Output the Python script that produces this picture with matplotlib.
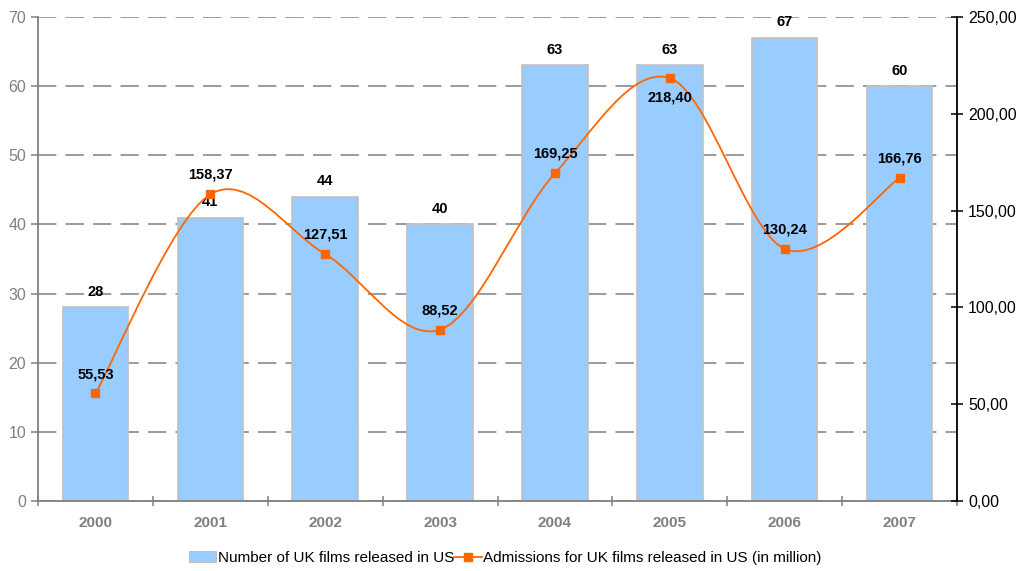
import numpy as np
import matplotlib
matplotlib.use('Agg')
import matplotlib.pyplot as plt
from matplotlib.path import Path
from matplotlib.patches import PathPatch, Patch
from matplotlib.lines import Line2D

plt.rcParams['font.family'] = ['Liberation Sans', 'DejaVu Sans']

years = ['2000', '2001', '2002', '2003', '2004', '2005', '2006', '2007']
films = [28, 41, 44, 40, 63, 63, 67, 60]
admissions = [55.53, 158.37, 127.51, 88.52, 169.25, 218.40, 130.24, 166.76]
# label above (+1) or below (-1) the marker
admissionSide = [1, 1, 1, 1, 1, -1, 1, 1]

barColor = '#99CCFF'
lineColor = '#FF6600'
gridColor = '#808080'


def smoothPath(xs, ys):
    # catmull-rom style bezier through the points (like excel smoothed line)
    verts = [(xs[0], ys[0])]
    codes = [Path.MOVETO]
    n = len(xs)
    for i in range(n - 1):
        x0, y0 = (xs[i - 1], ys[i - 1]) if i > 0 else (xs[i], ys[i])
        x1, y1 = xs[i], ys[i]
        x2, y2 = xs[i + 1], ys[i + 1]
        x3, y3 = (xs[i + 2], ys[i + 2]) if i + 2 < n else (x2, y2)
        c1 = (x1 + (x2 - x0) / 6.0, y1 + (y2 - y0) / 6.0)
        c2 = (x2 - (x3 - x1) / 6.0, y2 - (y3 - y1) / 6.0)
        verts += [c1, c2, (x2, y2)]
        codes += [Path.CURVE4] * 3
    return Path(verts, codes)


fig = plt.figure(figsize=(10.21, 5.71), dpi=100)
ax = fig.add_axes([38/1021, 70/571, 919/1021, 484/571])
xPos = np.arange(len(years))

ax.bar(xPos, films, width=0.57, color=barColor, edgecolor='#C0C0C0', linewidth=1.2, zorder=2)
for x, v in zip(xPos, films):
    ax.annotate(str(v), (x, v), xytext=(0, 11), textcoords='offset points',
                ha='center', va='center', fontsize=10.5, fontweight='bold')

ax.set_xlim(-0.5, len(years) - 0.5)
ax.set_ylim(0, 70)
ax.set_yticks(range(0, 71, 10))
ax.set_axisbelow(True)
ax.yaxis.grid(True, color=gridColor, linestyle=(0, (12, 6)), linewidth=1.1)
ax.set_xticks(xPos)
ax.set_xticklabels(years, fontweight='bold', color=gridColor, fontsize=11)
ax.set_xticks(np.arange(-0.5, len(years)), minor=True)
ax.tick_params(axis='x', which='major', length=0, pad=11)
ax.tick_params(axis='x', which='minor', length=7, direction='inout', color=gridColor, width=1.1)
ax.tick_params(axis='y', length=5, direction='out', color=gridColor, width=1.1,
               labelcolor=gridColor, labelsize=11.5)
ax.spines['top'].set_visible(False)
ax.spines['right'].set_visible(False)
ax.spines['left'].set_color(gridColor)
ax.spines['bottom'].set_color(gridColor)
ax.spines['left'].set_linewidth(1.3)
ax.spines['bottom'].set_linewidth(1.3)

ax2 = ax.twinx()
ax2.set_ylim(0, 250)
ax2.set_yticks(range(0, 251, 50))
ax2.set_yticklabels([('%.2f' % t).replace('.', ',') for t in range(0, 251, 50)])
ax2.tick_params(axis='y', length=8, direction='inout', width=1.1, labelsize=11.5, pad=4)
for s in ['top', 'left', 'bottom']:
    ax2.spines[s].set_visible(False)
ax2.spines['right'].set_linewidth(1.3)

ax2.add_patch(PathPatch(smoothPath(list(xPos), admissions), facecolor='none',
                        edgecolor=lineColor, linewidth=1.3, zorder=3))
ax2.plot(xPos, admissions, linestyle='none', marker='s', markersize=6,
         color=lineColor, zorder=4)
for x, v, side in zip(xPos, admissions, admissionSide):
    ax2.annotate(('%.2f' % v).replace('.', ','), (x, v), xytext=(0, 14 * side),
                 textcoords='offset points', ha='center', va='center',
                 fontsize=10.5, fontweight='bold', zorder=5)

handles = [Patch(facecolor=barColor, edgecolor='#C0C0C0', linewidth=0.8),
           Line2D([0], [0], color=lineColor, marker='s', markersize=6, linewidth=1.3)]
labels = ['Number of UK films released in US',
          'Admissions for UK films released in US (in million)']
fig.legend(handles, labels, loc='center', bbox_to_anchor=(505/1021, 13/571), ncol=2,
           frameon=False, fontsize=11, handlelength=1.8, handletextpad=0.1,
           columnspacing=0.0)

fig.savefig('out.png', dpi=100)
